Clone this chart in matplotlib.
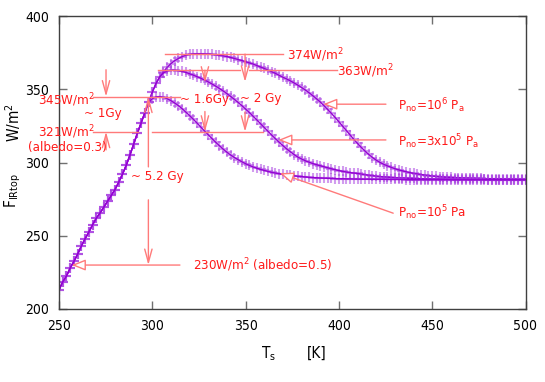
import numpy as np
import matplotlib
matplotlib.use("Agg")
import matplotlib.pyplot as plt

plt.rcParams['font.family'] = ['DejaVu Sans']
plt.rcParams['font.stretch'] = 'condensed'
plt.rcParams['mathtext.fontset'] = 'custom'
plt.rcParams['mathtext.rm'] = 'DejaVu Sans:stretch=condensed'
plt.rcParams['mathtext.it'] = 'DejaVu Sans:stretch=condensed'
plt.rcParams['mathtext.default'] = 'regular'

# ---- data ----
T_rise = list(range(250, 300, 2))
F_rise = [213, 218.5, 222.5, 228, 232.5, 237.5, 243, 248, 252.5, 257.5,
          262, 265.5, 269.5, 273.5, 277.5, 281.5, 286.5, 292, 298, 305,
          312.5, 320, 327, 334, 341]

T_tail = list(range(300, 501, 2))
F_tail_1e5 = [343.5, 344.8, 345, 344.5, 343.5, 342.2, 340.6, 338.8, 336.7, 334.4,
              332, 329.5, 326.9, 324.2, 321.5, 318.9, 316.3, 313.8, 311.4, 309.1,
              307, 305.1, 303.4, 301.9, 300.5, 299.2, 298, 297, 296.1, 295.3,
              294.6, 293.9, 293.3, 292.8, 292.3, 291.9, 291.5, 291.2, 290.9, 290.6,
              290.4, 290.1, 289.9, 289.7, 289.6, 289.4, 289.3, 289.2, 289.1, 289.0,
              288.9, 288.9, 288.8, 288.8, 288.7, 288.7, 288.6, 288.6, 288.6, 288.5,
              288.5, 288.5, 288.5, 288.4, 288.4, 288.4, 288.4, 288.4, 288.3, 288.3,
              288.3, 288.3, 288.3, 288.3, 288.3, 288.3, 288.3, 288.3, 288.3, 288.3,
              288.2, 288.2, 288.2, 288.2, 288.2, 288.2, 288.2, 288.2, 288.2, 288.2,
              288.2, 288.2, 288.2, 288.2, 288.2, 288.2, 288.2, 288.2, 288.2, 288.2,
              288.2]
F_tail_3e5 = [348, 354, 358.5, 361.2, 362.5, 363, 363, 362.7, 362.2, 361.5,
              360.6, 359.6, 358.6, 357.5, 356.3, 355, 353.6, 352.1, 350.5, 348.8,
              347, 345.1, 343.1, 341, 338.8, 336.5, 334.1, 331.6, 329.1, 326.5,
              323.9, 321.3, 318.7, 316.2, 313.8, 311.5, 309.3, 307.3, 305.4, 303.7,
              302.4, 301.2, 300.2, 299.3, 298.5, 297.8, 297.1, 296.4, 295.7, 295.1,
              294.5, 294.0, 293.5, 293.1, 292.8, 292.5, 292.1, 291.7, 291.3, 291.0,
              290.7, 290.4, 290.2, 290.0, 289.8, 289.6, 289.5, 289.4, 289.3, 289.2,
              289.1, 289.0, 288.9, 288.9, 288.8, 288.7, 288.7, 288.7, 288.6, 288.6,
              288.6, 288.5, 288.5, 288.5, 288.5, 288.4, 288.4, 288.4, 288.4, 288.4,
              288.3, 288.3, 288.3, 288.3, 288.3, 288.3, 288.2, 288.2, 288.2, 288.2,
              288.2]
F_tail_1e6 = [348, 354, 358.5, 362, 365, 367.5, 369.5, 371, 372.3, 373.2,
              373.8, 374.1, 374.2, 374.2, 374.1, 374.0, 373.8, 373.5, 373.2, 372.8,
              372.3, 371.7, 371.0, 370.3, 369.6, 368.8, 368.0, 367.2, 366.2, 365.2,
              364.2, 363.1, 362.0, 360.8, 359.5, 358.2, 357.0, 355.7, 354.3, 352.8,
              351.2, 349.5, 347.6, 345.6, 343.5, 341.3, 338.8, 336.2, 333.5, 330.7,
              327.8, 324.8, 321.8, 318.8, 315.8, 313.0, 310.3, 307.8, 305.5, 303.4,
              301.6, 300.1, 298.8, 297.7, 296.7, 295.8, 295.0, 294.3, 293.7, 293.1,
              292.6, 292.2, 291.8, 291.4, 291.1, 290.8, 290.5, 290.3, 290.1, 289.9,
              289.8, 289.7, 289.6, 289.5, 289.4, 289.3, 289.2, 289.1, 289.1, 289.0,
              288.9, 288.9, 288.8, 288.8, 288.7, 288.7, 288.7, 288.6, 288.6, 288.6,
              288.5]

curves = {
    'Pno=1e6': F_rise + F_tail_1e6,
    'Pno=3e5': F_rise + F_tail_3e5,
    'Pno=1e5': F_rise + F_tail_1e5,
}
T_all = T_rise + T_tail

x_ticks = [250, 300, 350, 400, 450, 500]
y_ticks = [200, 250, 300, 350, 400]

# ---- figure ----
fig = plt.figure(figsize=(5.45, 3.82), dpi=100)
ax = fig.add_axes([59/545, 1-309/382, (525.5-59)/545, (309-16)/382])

for name, F in curves.items():
    ax.plot(T_all, F, linestyle='none', marker='+', markersize=7, mew=1.5,
            color='#a63be0', alpha=0.5)
    ax.plot(T_all, F, linestyle='-', color='#9400d3', lw=1.0)

ax.set_xlim(250, 500)
ax.set_ylim(200, 400)
ax.set_xticks(x_ticks)
ax.set_yticks(y_ticks)
ax.tick_params(direction='in', length=6, width=1, color='#707070',
               top=True, right=True, labelsize=10, pad=7)
for s in ax.spines.values():
    s.set_color('#404040')
    s.set_linewidth(1.0)

RED = '#ff1a1a'
LC = '#ff7a7a'
fs = 9.5

def seg(x0, y0, x1, y1):
    ax.plot([x0, x1], [y0, y1], color=LC, lw=1.0)

def varrow(x, y0, y1):
    ax.annotate('', xy=(x, y1), xytext=(x, y0),
                arrowprops=dict(arrowstyle='->,head_length=0.8,head_width=0.22',
                                color=LC, lw=1.0, mutation_scale=12,
                                shrinkA=0, shrinkB=0))

def harrow(x0, y0, x1, y1):
    ax.annotate('', xy=(x1, y1), xytext=(x0, y0),
                arrowprops=dict(arrowstyle='-|>,head_length=0.7,head_width=0.28',
                                ec=LC, fc='white', lw=1.0, mutation_scale=12,
                                shrinkA=0, shrinkB=0))

# horizontal reference lines
seg(268.2, 345, 314.8, 345)
seg(268.2, 321, 292.3, 321)
seg(299.8, 321, 359.3, 321)
seg(303, 363, 347, 363)
seg(352, 363, 398.8, 363)
seg(306.8, 374, 369.8, 374)

# dimension arrows
varrow(275.2, 363.3, 345)
varrow(275.2, 308.6, 321)
varrow(328.2, 363, 354.5)
varrow(328.2, 334.8, 321)
varrow(349.7, 374, 355)
varrow(349.7, 334.5, 321)
varrow(297.9, 297, 345)
varrow(297.9, 274.5, 230)

# pointer arrows
harrow(425.2, 339.8, 391.6, 339.8)
harrow(425.2, 315.4, 367.5, 315.4)
harrow(429.1, 265.4, 368.4, 292.7)
harrow(314.8, 230, 256.8, 230)

# labels
kw = dict(color=RED, fontsize=fs, clip_on=False)
ax.text(253.8, 342.3, '345W/m$^2$', ha='center', va='center', **kw)
ax.text(253.8, 320.5, '321W/m$^2$', ha='center', va='center', **kw)
ax.text(254.6, 310.5, '(albedo=0.3)', ha='center', va='center', **kw)
ax.text(273.3, 333.5, '~ 1Gy', ha='center', va='center', **kw)
ax.text(328.2, 343, '~ 1.6Gy', ha='center', va='center', **kw)
ax.text(347, 344, '~ 2 Gy', ha='left', va='center', **kw)
ax.text(302.8, 290.5, '~ 5.2 Gy', ha='center', va='center', **kw)
ax.text(372.2, 373, '374W/m$^2$', ha='left', va='center', **kw)
ax.text(398.9, 362.5, '363W/m$^2$', ha='left', va='center', **kw)
ax.text(431.8, 339, 'P$_{no}$=10$^{6}$ P$_{a}$', ha='left', va='center', **kw)
ax.text(431.8, 314, 'P$_{no}$=3x10$^{5}$ P$_{a}$', ha='left', va='center', **kw)
ax.text(431.8, 265.5, 'P$_{no}$=10$^{5}$ Pa', ha='left', va='center', **kw)
ax.text(322, 230, '230W/m$^2$ (albedo=0.5)', ha='left', va='center', **kw)

# axis labels
fig.text(13/545, 1-123/382, 'W/m$^2$', rotation=90, ha='center', va='center', fontsize=11)
fig.text(13/545, 1-191/382, 'F$_{IRtop}$', rotation=90, ha='center', va='center', fontsize=11)
fig.text(269/545, 1-354/382, 'T$_{s}$', ha='center', va='center', fontsize=11)
fig.text(316.7/545, 1-353/382, '[K]', ha='center', va='center', fontsize=11)

fig.savefig('out.png', dpi=100)
